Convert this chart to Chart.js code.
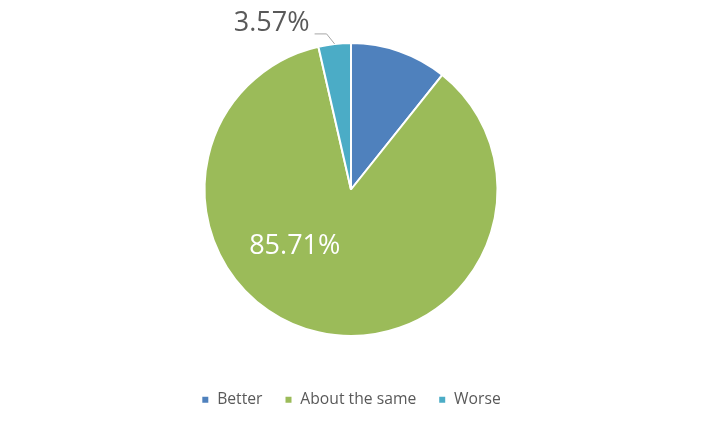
<!DOCTYPE html>
<html>
<head>
<meta charset="utf-8">
<script src="https://cdn.jsdelivr.net/npm/chart.js@4.4.0/dist/chart.umd.min.js"></script>
<style>
  html, body { margin: 0; padding: 0; background: #fff; }
  #wrap { width: 708px; height: 427px; }
</style>
</head>
<body>
<div id="wrap"><canvas id="myChart" width="708" height="427"></canvas></div>
<script>
const categories = ['Better', 'About the same', 'Worse'];
const values = [10.71, 85.71, 3.57];
const labelText = ['', '85.71%', '3.57%'];
const colors = ['#4F81BD', '#9BBB59', '#4BACC6'];

// legend box keeps a fixed height so the pie gets the right size
const legendHeight = {
  id: 'legendHeight',
  beforeInit(chart) {
    const fit = chart.legend.fit;
    chart.legend.fit = function () {
      fit.bind(chart.legend)();
      this.height = 90;
    };
  }
};

// draws the two data labels like the original (one inside, one outside with leader)
const sliceLabels = {
  id: 'sliceLabels',
  afterDatasetsDraw(chart) {
    const ctx = chart.ctx;
    const arcs = chart.getDatasetMeta(0).data;
    ctx.save();
    ctx.font = '27px "Open Sans", "Liberation Sans", sans-serif';
    ctx.textBaseline = 'middle';
    ctx.textAlign = 'center';

    // About the same: inside, white
    const a = arcs[1];
    ctx.fillStyle = '#ffffff';
    ctx.fillText(labelText[1], a.x - a.outerRadius * 0.384, a.y + a.outerRadius * 0.39);

    // Worse: outside with a leader line
    const w = arcs[2];
    const mid = (w.startAngle + w.endAngle) / 2;
    const px = w.x + Math.cos(mid) * w.outerRadius;
    const py = w.y + Math.sin(mid) * w.outerRadius;
    ctx.strokeStyle = '#a6a6a6';
    ctx.lineWidth = 1;
    ctx.beginPath();
    ctx.moveTo(px, py);
    ctx.lineTo(px - 8, py - 10);
    ctx.lineTo(px - 20, py - 10);
    ctx.stroke();
    ctx.fillStyle = '#595959';
    ctx.fillText(labelText[2], px - 63, py - 21);
    ctx.restore();
  }
};

new Chart(document.getElementById('myChart'), {
  type: 'pie',
  data: {
    labels: categories,
    datasets: [{
      data: values,
      backgroundColor: colors,
      borderColor: '#ffffff',
      borderWidth: 2
    }]
  },
  options: {
    responsive: false,
    animation: false,
    layout: { padding: { top: 42, bottom: 0, right: 6 } },
    plugins: {
      tooltip: { enabled: false },
      legend: {
        position: 'bottom',
        title: {
          display: true,
          text: ' ',
          font: { size: 10 },
          padding: { top: 21, bottom: 0 }
        },
        labels: {
          boxWidth: 8,
          boxHeight: 8,
          padding: 22,
          color: '#595959',
          font: { size: 15.7, family: '"Open Sans", "Liberation Sans", sans-serif' }
        }
      }
    }
  },
  plugins: [legendHeight, sliceLabels]
});
</script>
</body>
</html>
